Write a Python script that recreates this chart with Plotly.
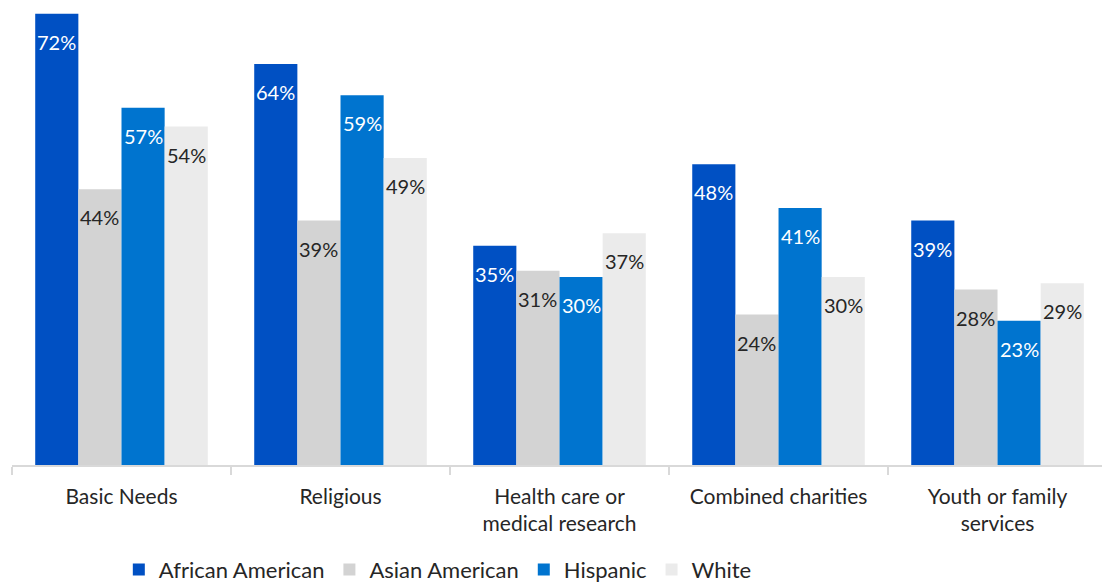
import plotly.graph_objects as go

categories = ["Basic Needs", "Religious", "Health care or<br>medical research",
              "Combined charities", "Youth or family<br>services"]
series = ["African American", "Asian American", "Hispanic", "White"]
african_american = [72, 64, 35, 48, 39]
asian_american = [44, 39, 31, 24, 28]
hispanic = [57, 59, 30, 41, 23]
white = [54, 49, 37, 30, 29]

values = [african_american, asian_american, hispanic, white]
colors = ["#0050C3", "#D3D3D3", "#0074CF", "#EBEBEB"]
text_colors = ["white", "#262626", "white", "#262626"]

FONT = "Lato"
bw = 0.197  # bar width in category units
xs = list(range(len(categories)))

fig = go.Figure()
for k, (name, vals) in enumerate(zip(series, values)):
    off = (k - 2) * bw
    fig.add_trace(go.Bar(
        x=xs, y=vals, name=name, width=bw, offset=off,
        marker=dict(color=colors[k], line=dict(width=0)),
    ))
    for i, v in enumerate(vals):
        fig.add_annotation(
            x=i + off + bw / 2, y=v, xref="x", yref="y",
            text=f"{v}%", showarrow=False, yanchor="middle", yshift=-28,
            font=dict(family=FONT, size=20, color=text_colors[k]),
        )

fig.update_layout(
    width=1102, height=583,
    margin=dict(l=12, r=0, t=0, b=118, autoexpand=False),
    plot_bgcolor="white", paper_bgcolor="white",
    barmode="overlay",
    font=dict(family=FONT, size=19, color="#262626"),
    legend=dict(orientation="h", x=0.098, xanchor="left", y=-0.225, yanchor="middle",
                font=dict(family=FONT, size=22, color="#262626"),
                itemwidth=30, traceorder="normal"),
    xaxis=dict(range=[-0.5, 4.477], tickmode="array", tickvals=xs, ticktext=categories,
               showline=True, linecolor="#D9D9D9", linewidth=1.5,
               ticks="", showgrid=False, zeroline=False, automargin=False,
               ticklabelstandoff=12,
               tickfont=dict(family=FONT, size=21, color="#262626"),
               minor=dict(tickmode="array", tickvals=[-0.5, 0.5, 1.5, 2.5, 3.5, 4.5],
                          ticks="outside", ticklen=8, tickcolor="#D9D9D9", tickwidth=1.5)),
    yaxis=dict(range=[0, 74.2], visible=False, showgrid=False, zeroline=False,
               automargin=False),
)

fig.write_html("out.html", config={"displayModeBar": False},
               post_script="document.body.style.margin='0px';document.body.style.overflow='hidden';")
